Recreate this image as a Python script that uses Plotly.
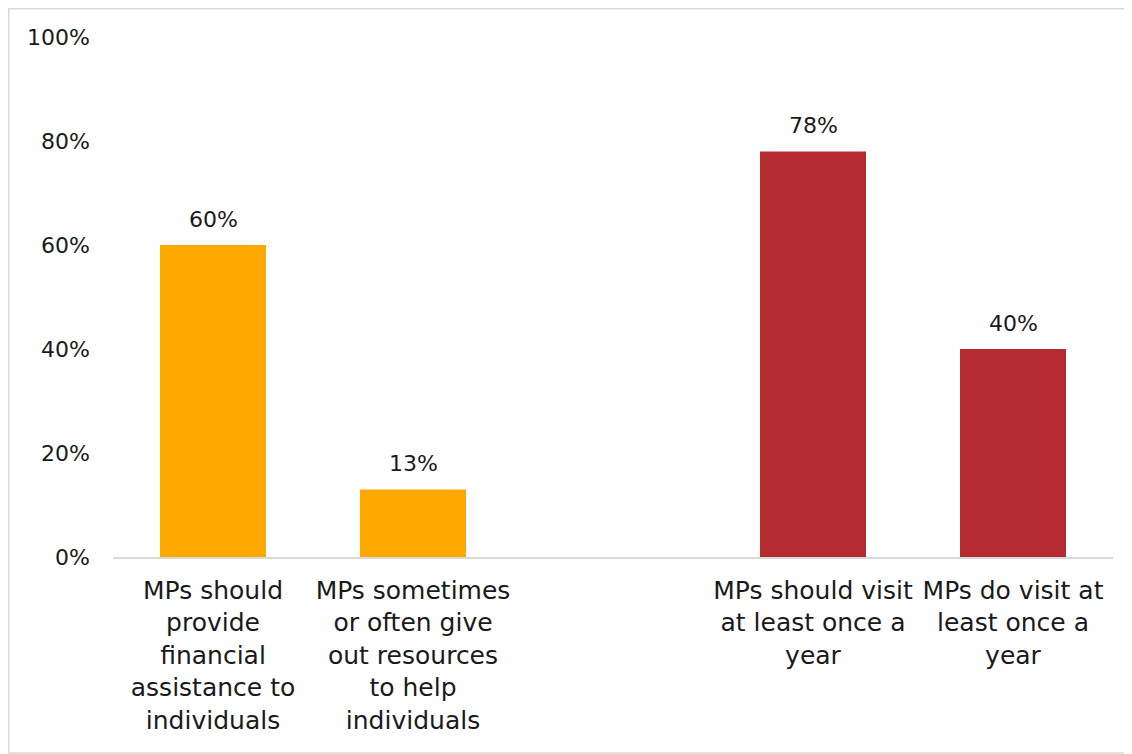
import plotly.graph_objects as go

categories = [
    "MPs should<br>provide<br>financial<br>assistance to<br>individuals",
    "MPs sometimes<br>or often give<br>out resources<br>to help<br>individuals",
    "",
    "MPs should visit<br>at least once a<br>year",
    "MPs do visit at<br>least once a<br>year",
]
values = [60, 13, None, 78, 40]
bar_colors = ["#FFA800", "#FFA800", "#FFFFFF", "#B52A30", "#B52A30"]
y_ticks = [0, 20, 40, 60, 80, 100]
y_tick_labels = ["0%", "20%", "40%", "60%", "80%", "100%"]

FONT = "DejaVu Sans"
TXT = "#1a1a1a"
x_pos = list(range(len(categories)))

fig = go.Figure()
fig.add_trace(go.Bar(
    x=x_pos,
    y=values,
    marker=dict(color=bar_colors, line=dict(width=0)),
    width=0.53,
    hoverinfo="skip",
))

annotations = []
for xi, v in zip(x_pos, values):
    if v is None:
        continue
    annotations.append(dict(
        x=xi, y=v, xref="x", yref="y",
        text=f"{v}%", showarrow=False,
        yanchor="bottom", yshift=11,
        font=dict(family=FONT, size=22, color=TXT),
    ))

# page is offset by 8px body margin
W, H = 1124, 746
ml, mr, mt, mb = 105, 19, 29, 197
pw, ph = W - ml - mr, H - mt - mb

def px_x(p):
    return (p - ml) / pw

def px_y(p):
    return (H - mb - p) / ph

fig.update_layout(
    width=W, height=H,
    margin=dict(l=ml, r=mr, t=mt, b=mb),
    paper_bgcolor="white",
    plot_bgcolor="white",
    showlegend=False,
    font=dict(family=FONT, size=22, color=TXT),
    annotations=annotations,
    shapes=[dict(
        type="rect", xref="paper", yref="paper",
        x0=px_x(0.8), x1=px_x(1140), y0=px_y(745), y1=px_y(0.8),
        line=dict(color="#D9D9D9", width=1.5), fillcolor="rgba(0,0,0,0)",
        layer="below",
    )],
    xaxis=dict(
        tickvals=x_pos,
        ticktext=categories,
        range=[-0.5, len(categories) - 0.5],
        showgrid=False,
        zeroline=False,
        showline=True,
        linecolor="#D9D9D9",
        linewidth=1.5,
        ticks="",
        tickfont=dict(family=FONT, size=25, color=TXT),
        ticklabelstandoff=10,
    ),
    yaxis=dict(
        range=[0, 100],
        tickvals=y_ticks,
        ticktext=y_tick_labels,
        showgrid=False,
        zeroline=False,
        showline=False,
        ticks="",
        tickfont=dict(family=FONT, size=22, color=TXT),
        ticklabelstandoff=22,
    ),
)

fig.write_html("out.html")
